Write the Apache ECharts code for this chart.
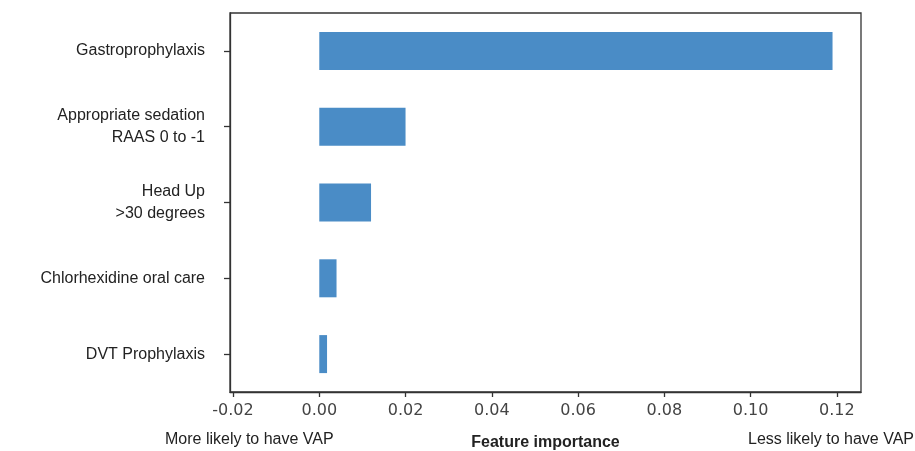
<!DOCTYPE html>
<html>
<head>
<meta charset="utf-8">
<script src="https://cdn.jsdelivr.net/npm/echarts@6/dist/echarts.min.js"></script>
<style>
html,body{margin:0;padding:0;background:#fff;}
#chart{width:915px;height:451px;}
</style>
</head>
<body>
<div id="chart"></div>
<script>
const categories = [
  "Gastroprophylaxis",
  "Appropriate sedation\nRAAS 0 to -1",
  "Head Up\n>30 degrees",
  "Chlorhexidine oral care",
  "DVT Prophylaxis"
];
const importance = [0.119, 0.020, 0.012, 0.004, 0.0018];
const xTicks = [-0.02, 0.00, 0.02, 0.04, 0.06, 0.08, 0.10, 0.12];
const xName = "Feature importance";
const leftNote = "More likely to have VAP";
const rightNote = "Less likely to have VAP";

const chart = echarts.init(document.getElementById('chart'));
chart.setOption({
  animation: false,
  grid: {
    left: 230, right: 54, top: 13, bottom: 59,
    containLabel: false, outerBoundsMode: 'none',
    show: true, borderColor: '#333', borderWidth: 1.3, backgroundColor: 'transparent'
  },
  xAxis: {
    type: 'value',
    min: -0.0207, max: 0.1256,
    splitLine: { show: false },
    axisLine: { show: true, onZero: false, lineStyle: { color: '#333', width: 1.3 } },
    axisTick: { show: true, length: 5, customValues: xTicks, lineStyle: { color: '#333', width: 1.3 } },
    axisLabel: {
      customValues: xTicks,
      formatter: v => v.toFixed(2),
      fontFamily: 'DejaVu Sans', fontSize: 16, color: '#444', margin: 11
    },
    name: xName,
    nameLocation: 'middle',
    nameGap: 43,
    nameTextStyle: { fontFamily: 'Liberation Sans', fontWeight: 'bold', fontSize: 16, color: '#222' }
  },
  yAxis: {
    type: 'category',
    data: categories,
    inverse: true,
    axisLine: { show: true, onZero: false, lineStyle: { color: '#333', width: 1.3 } },
    axisTick: { show: true, alignWithLabel: true, length: 6, lineStyle: { color: '#333', width: 1.3 } },
    axisLabel: {
      fontFamily: 'Liberation Sans', fontSize: 16, color: '#222', margin: 25,
      lineHeight: 22, align: 'right'
    },
    splitLine: { show: false }
  },
  series: [{
    type: 'bar',
    data: importance,
    barWidth: 38,
    itemStyle: { color: '#4a8cc6' }
  }],
  graphic: [
    { type: 'text', left: 165, top: 432, style: { text: leftNote, fontFamily: 'Liberation Sans', fontSize: 16, fill: '#222' } },
    { type: 'text', right: 1, top: 432, style: { text: rightNote, fontFamily: 'Liberation Sans', fontSize: 16, fill: '#222' } }
  ]
});
</script>
</body>
</html>
